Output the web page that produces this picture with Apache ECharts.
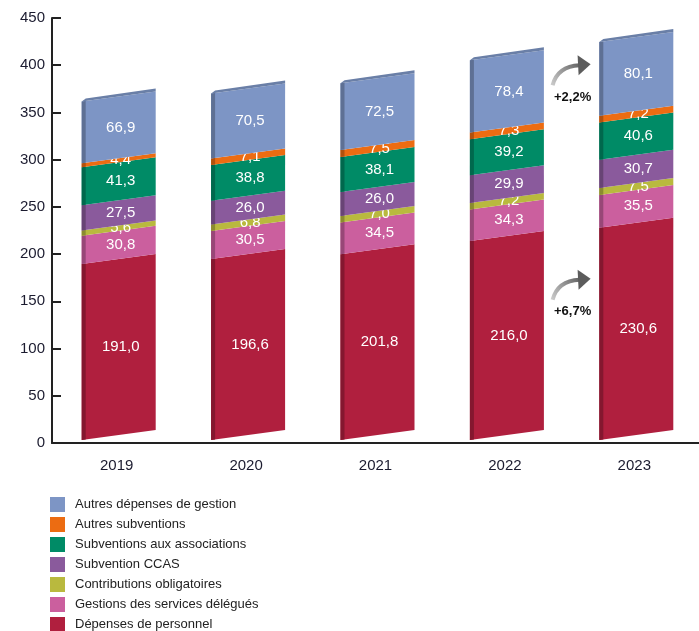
<!DOCTYPE html>
<html>
<head>
<meta charset="utf-8">
<script src="https://cdn.jsdelivr.net/npm/echarts@6/dist/echarts.min.js"></script>
<style>
  html, body { margin: 0; padding: 0; background: #fff; }
  #main { width: 699px; height: 631px; }
</style>
</head>
<body>
<div id="main"></div>
<script>
// années
var years = ["2019", "2020", "2021", "2022", "2023"];

// séries empilées (du bas vers le haut), en M€
var personnel = [191.0, 196.6, 201.8, 216.0, 230.6];
var servicesDelegues = [30.8, 30.5, 34.5, 34.3, 35.5];
var contributions = [5.6, 6.8, 7.0, 7.2, 7.5];
var ccas = [27.5, 26.0, 26.0, 29.9, 30.7];
var associations = [41.3, 38.8, 38.1, 39.2, 40.6];
var autresSubv = [4.4, 7.1, 7.5, 7.3, 7.2];
var autresGestion = [66.9, 70.5, 72.5, 78.4, 80.1];

var seriesNames = [
  "Dépenses de personnel",
  "Gestions des services délégués",
  "Contributions obligatoires",
  "Subvention CCAS",
  "Subventions aux associations",
  "Autres subventions",
  "Autres dépenses de gestion"
];
var seriesValues = [personnel, servicesDelegues, contributions, ccas, associations, autresSubv, autresGestion];
var seriesColors = ["#b01f3e", "#cb5f9e", "#b9b93e", "#8a5a9c", "#008b66", "#ec6c12", "#7d95c5"];

// évolutions 2022 -> 2023 indiquées sur le graphique
var growthLabels = ["+2,2%", "+6,7%"];
var growthAt = [366, 139];

var myChart = echarts.init(document.getElementById("main"));

function fmt(v) {
  return v.toFixed(1).replace(".", ",");
}

// assombrit une couleur hex
function shade(hex, f) {
  var n = parseInt(hex.slice(1), 16);
  var r = Math.round(((n >> 16) & 255) * f);
  var g = Math.round(((n >> 8) & 255) * f);
  var b = Math.round((n & 255) * f);
  return "rgb(" + r + "," + g + "," + b + ")";
}

// cumul pour l'empilement
var bases = years.map(function () { return 0; });
var series = seriesValues.map(function (vals, s) {
  var data = vals.map(function (v, i) {
    var b = bases[i];
    bases[i] += v;
    return [i, b, b + v, v];
  });
  var isTop = s === seriesValues.length - 1;
  var color = seriesColors[s];
  return {
    name: seriesNames[s],
    type: "custom",
    itemStyle: { color: color },
    encode: { x: 0, y: [1, 2] },
    data: data,
    renderItem: function (params, api) {
      var i = api.value(0);
      var c0 = api.coord([i, api.value(1)]);
      var c1 = api.coord([i, api.value(2)]);
      var y0 = api.coord([i, 0])[1];
      var half = 37, skew = 10;
      var map = function (y) { return y0 - 3 - 0.975 * (y0 - y); };
      var xl = c0[0] - half + 2, xr = c0[0] + half + 2;
      var bl = map(c0[1]), tl = map(c1[1]);
      var sk4 = skew * 4 / (2 * half);
      var children = [
        {
          type: "polygon",
          shape: { points: [[xl, bl], [xr, bl - skew], [xr, tl - skew], [xl, tl]] },
          style: { fill: color }
        },
        {
          type: "polygon",
          shape: { points: [[xl, bl], [xl + 4, bl - sk4], [xl + 4, tl - sk4], [xl, tl]] },
          style: { fill: shade(color, 0.75) }
        }
      ];
      if (isTop) {
        children.push({
          type: "polygon",
          shape: { points: [[xl, tl], [xr, tl - skew], [xr, tl - skew - 3], [xl + 4, tl - 3]] },
          style: { fill: shade(color, 0.85) }
        });
      }
      children.push({
        type: "text",
        style: {
          text: fmt(api.value(3)),
          x: c0[0] + 4,
          y: (bl + tl) / 2 - skew / 2,
          align: "center",
          verticalAlign: "middle",
          fill: "#fff",
          font: "15px 'Liberation Sans'"
        }
      });
      return { type: "group", children: children };
    }
  };
});

myChart.setOption({
  backgroundColor: "#fff",
  animation: false,
  grid: { left: 52, right: -20, top: 18, bottom: 188 },
  legend: {
    data: seriesNames.slice().reverse(),
    orient: "vertical",
    left: 50,
    top: 497,
    padding: 0,
    height: 140,
    itemWidth: 15,
    itemHeight: 15,
    itemGap: 5,
    icon: "rect",
    textStyle: {
      fontFamily: "Liberation Sans",
      fontSize: 13,
      color: "#222",
      padding: [0, 0, 0, 5]
    }
  },
  xAxis: {
    type: "category",
    data: years,
    axisLine: { lineStyle: { color: "#222", width: 2 } },
    axisTick: { inside: true, length: 11, lineStyle: { color: "#222", width: 2 } },
    axisLabel: { color: "#1b1b2f", fontSize: 15, fontFamily: "Liberation Sans", margin: 15 }
  },
  yAxis: {
    type: "value",
    min: 0,
    max: 450,
    interval: 50,
    axisLine: { show: true, lineStyle: { color: "#222", width: 2 } },
    axisTick: { show: true, inside: true, length: 9, lineStyle: { color: "#222", width: 2 } },
    axisLabel: { color: "#1b1b2f", fontSize: 15, fontFamily: "Liberation Sans", margin: 7 },
    splitLine: { show: false }
  },
  series: series
});

// flèches d'évolution entre 2022 et 2023
var xMid = (myChart.convertToPixel({ xAxisIndex: 0 }, 3) + myChart.convertToPixel({ xAxisIndex: 0 }, 4)) / 2;
var arrowFill = new echarts.graphic.LinearGradient(0, 1, 1, 0, [
  { offset: 0, color: "#d4d4d4" },
  { offset: 1, color: "#5c5c5c" }
]);
var graphics = growthLabels.map(function (txt, k) {
  var y = myChart.convertToPixel({ yAxisIndex: 0 }, growthAt[k]);
  return {
    type: "group",
    x: xMid + 3,
    y: y,
    children: [
      {
        type: "bezierCurve",
        shape: { x1: -20, y1: -12, cpx1: -15, cpy1: -31, x2: 7, y2: -32 },
        style: { stroke: arrowFill, lineWidth: 4, fill: null }
      },
      {
        type: "polygon",
        shape: { points: [[5, -42], [18, -33], [6, -22]] },
        style: { fill: "#5c5c5c" }
      },
      {
        type: "text",
        style: {
          text: txt,
          x: 0,
          y: 0,
          align: "center",
          verticalAlign: "middle",
          fill: "#111",
          font: "bold 13px 'Liberation Sans'"
        }
      }
    ]
  };
});
myChart.setOption({ graphic: graphics });
</script>
</body>
</html>
